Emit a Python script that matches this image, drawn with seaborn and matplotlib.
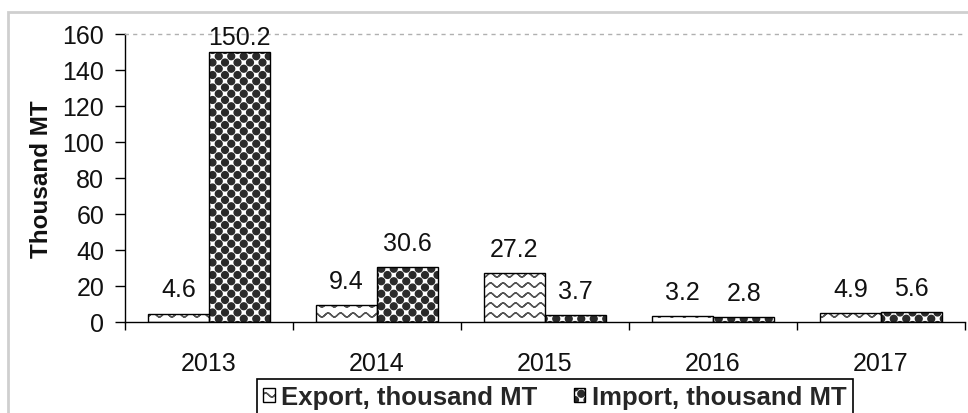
import warnings

import numpy as np
import pandas as pd
import matplotlib
matplotlib.use("Agg")
import matplotlib.pyplot as plt
import matplotlib.hatch as mhatch
from matplotlib.path import Path
from matplotlib.patches import Patch, Rectangle
from matplotlib.legend_handler import HandlerTuple
from matplotlib.ticker import FixedLocator
import seaborn as sns

warnings.filterwarnings("ignore", category=matplotlib.MatplotlibDeprecationWarning)

# ---- data -----------------------------------------------------------------
years = ["2013", "2014", "2015", "2016", "2017"]
export_kmt = [4.6, 9.4, 27.2, 3.2, 4.9]
import_kmt = [150.2, 30.6, 3.7, 2.8, 5.6]
series_names = ["Export, thousand MT", "Import, thousand MT"]
y_ticks = [0, 20, 40, 60, 80, 100, 120, 140, 160]
y_title = "Thousand MT"


# ---- custom fill textures (wavy lines and staggered dots) ------------------
class WaveHatch(mhatch.HatchPatternBase):
    """Rows of small sine waves, one tile-worth of rows per '~'."""

    def __init__(self, hatch, density):
        n = hatch.count("~")
        self.rows = 10 * n
        self.waves = 8
        self.seg = 96
        self.num_vertices = self.rows * (self.seg + 1) * 2 if n else 0

    def set_vertices_and_codes(self, vertices, codes):
        t = np.linspace(0.0, 1.0, self.seg + 1)
        amp = 0.02
        parts, cparts = [], []
        for r in range(self.rows):
            y0 = (r + 0.5) / self.rows
            line = np.column_stack([t, y0 + amp * np.sin(2 * np.pi * self.waves * t)])
            both = np.concatenate([line, line[::-1]])
            c = np.full(len(both), Path.LINETO, dtype=Path.code_type)
            c[0] = Path.MOVETO
            parts.append(both)
            cparts.append(c)
        np.concatenate(parts, out=vertices)
        np.concatenate(cparts, out=codes)


class DotHatch(mhatch.HatchPatternBase):
    """Staggered lattice of filled discs, one lattice per '@'."""

    def __init__(self, hatch, density):
        n = hatch.count("@")
        circ = Path.unit_circle()
        self.cverts = circ.vertices
        self.ccodes = circ.codes
        self.nx, self.ny, self.r = 8, 16, 0.034
        self.centers = []
        if n:
            for row in range(self.ny + 1):
                y = row / self.ny
                shift = 0.5 / self.nx if row % 2 else 0.0
                for c in range(-1, self.nx + 2):
                    x = c / self.nx + shift
                    if -self.r <= x <= 1 + self.r:
                        self.centers.append((x, y))
        self.num_vertices = len(self.centers) * len(self.cverts)

    def set_vertices_and_codes(self, vertices, codes):
        parts = [self.cverts * self.r + np.array(c) for c in self.centers]
        np.concatenate(parts, out=vertices)
        np.concatenate([self.ccodes] * len(self.centers), out=codes)


mhatch._hatch_types.extend([WaveHatch, DotHatch])

# ---- styling ---------------------------------------------------------------
sns.set_theme(style="white")
plt.rcParams["font.family"] = ["Liberation Sans", "DejaVu Sans"]
plt.rcParams["hatch.linewidth"] = 1.0
FS = 18          # numbers
FS_TITLE = 17.5  # axis title
FS_LEG = 18.5    # legend

styles = {
    series_names[0]: dict(hatch="~", ink="#555555"),
    series_names[1]: dict(hatch="@", ink="#2a2a2a"),
}

df = pd.DataFrame({
    "year": years * 2,
    "value": export_kmt + import_kmt,
    "series": [series_names[0]] * len(years) + [series_names[1]] * len(years),
})

fig = plt.figure(figsize=(9.68, 4.14), dpi=100)
ax = fig.add_axes([125 / 968, 1 - 323 / 414, 840 / 968, (323 - 35) / 414])

sns.barplot(
    data=df, x="year", y="value", hue="series", hue_order=series_names,
    order=years, palette={s: "white" for s in series_names},
    width=0.73, saturation=1, legend=False, ax=ax,
)

# texture each bar, then outline it in black
for name, container in zip(series_names, ax.containers):
    st = styles[name]
    for bar in container:
        bar.set_facecolor("white")
        bar.set_hatch(st["hatch"])
        bar.set_edgecolor(st["ink"])
        bar.set_linewidth(0)
        ax.add_patch(Rectangle(bar.get_xy(), bar.get_width(), bar.get_height(),
                               fill=False, edgecolor="black", linewidth=1.0, zorder=3))

# value labels above each bar (kept inside the plot area)
LABEL_CEILING = 145
for container, values in zip(ax.containers, [export_kmt, import_kmt]):
    for bar, v in zip(container, values):
        ax.annotate(f"{v}", xy=(bar.get_x() + bar.get_width() / 2, min(v, LABEL_CEILING)),
                    xytext=(0, 12.5), textcoords="offset points",
                    ha="center", va="baseline", fontsize=FS, color="#111111")

# axes
ax.set_xlim(-0.5, len(years) - 0.5)
ax.set_ylim(y_ticks[0], y_ticks[-1])
ax.set_yticks(y_ticks)
ax.set_yticklabels([str(t) for t in y_ticks], fontsize=FS, color="#111111")
ax.set_xticks(range(len(years)))
ax.set_xticklabels(years, fontsize=FS, color="#111111")
ax.xaxis.set_minor_locator(FixedLocator(np.arange(len(years) + 1) - 0.5))
ax.tick_params(axis="x", which="major", length=0, pad=21)
ax.tick_params(axis="x", which="minor", length=6, width=1, direction="out", color="black", bottom=True)
ax.tick_params(axis="y", which="major", length=7, width=1, direction="out", color="black", left=True, pad=8)
ax.set_xlabel("")
ax.set_ylabel(y_title, fontsize=FS_TITLE, fontweight="bold", labelpad=7, color="#111111")

for side in ("left", "bottom"):
    ax.spines[side].set_color("black")
    ax.spines[side].set_linewidth(1.0)
ax.spines["right"].set_visible(False)
ax.spines["top"].set_color("#b0b0b0")
ax.spines["top"].set_linestyle((0, (2, 4)))
ax.spines["top"].set_linewidth(1.0)

# legend below the plot
handles = []
for name in series_names:
    st = styles[name]
    tex = Patch(facecolor="white", hatch=st["hatch"], edgecolor=st["ink"], linewidth=0)
    rim = Patch(facecolor="none", edgecolor="black", linewidth=1.0)
    handles.append((tex, rim))
leg = fig.legend(
    handles, series_names, handler_map={tuple: HandlerTuple(ndivide=1, pad=0)},
    loc="upper left", bbox_to_anchor=(257 / 968, 1 - 380 / 414), ncol=2,
    prop={"size": FS_LEG, "weight": "bold"}, frameon=True, fancybox=False,
    edgecolor="black", framealpha=1, borderpad=0.25, borderaxespad=0,
    handlelength=0.45, handleheight=0.45, handletextpad=0.25, columnspacing=1.4,
)
leg.get_frame().set_linewidth(1.2)

# outer chart frame
fig.patches.append(Rectangle((8 / 968, -0.1), 1.2, 1.1 - 13 / 414, transform=fig.transFigure,
                             fill=False, edgecolor="#cfcfcf", linewidth=2, zorder=0))

fig.savefig("out.png", dpi=100)
